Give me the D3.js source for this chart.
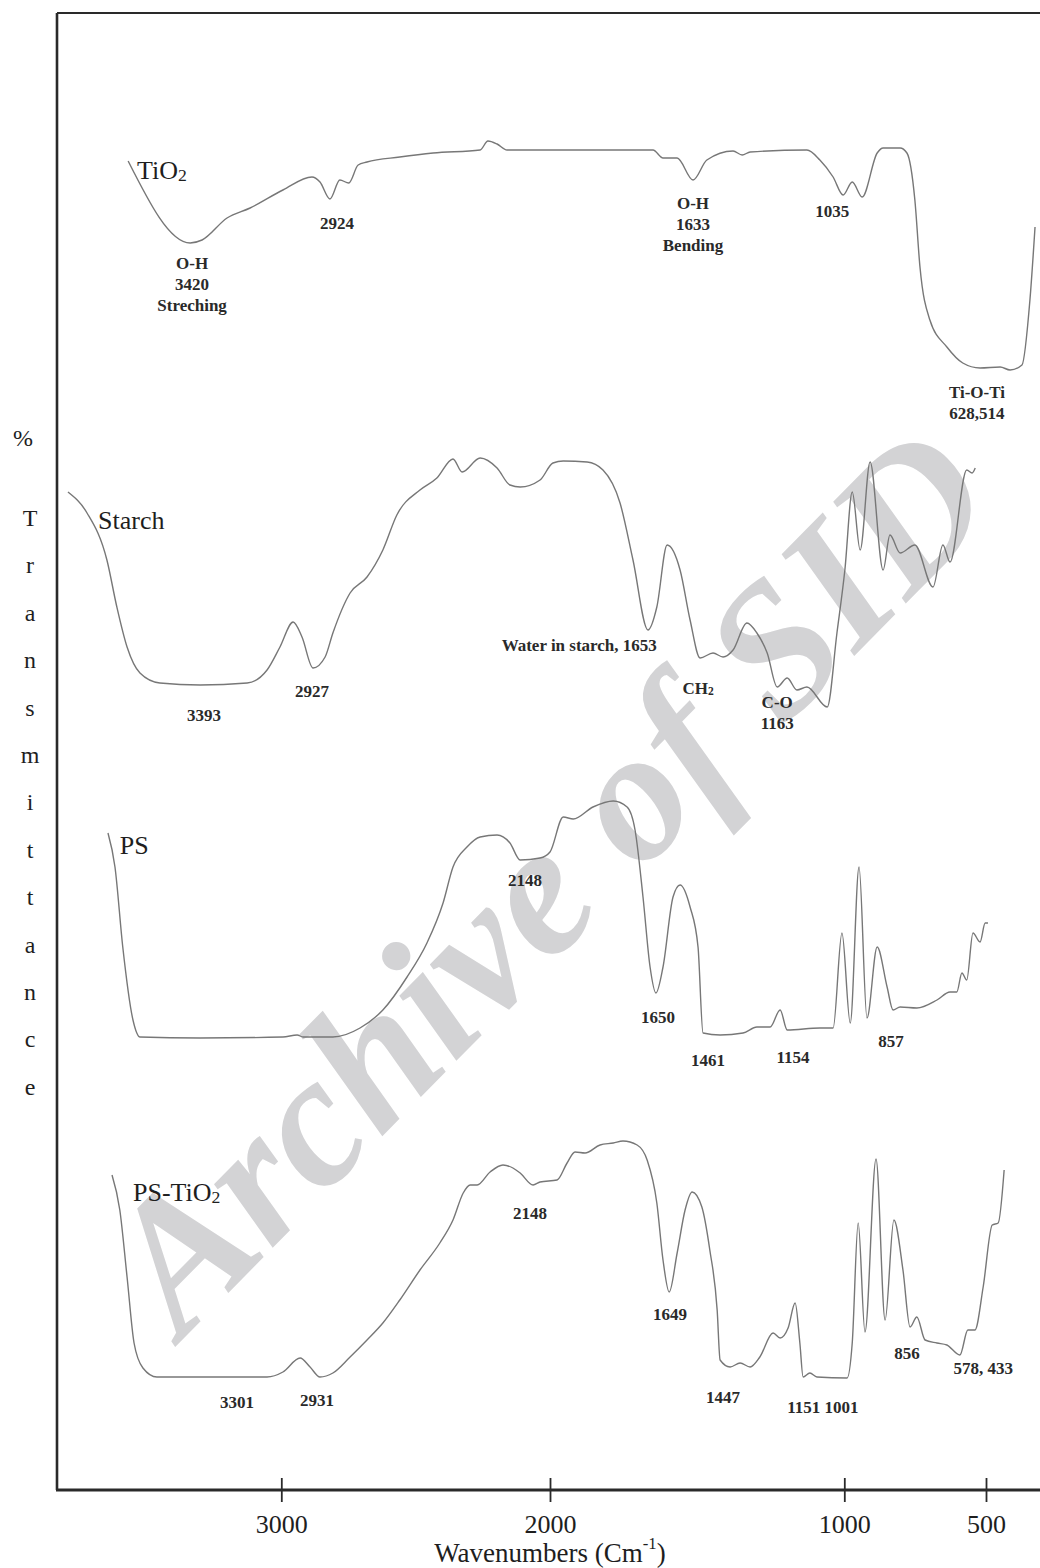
<!DOCTYPE html>
<html>
<head>
<meta charset="utf-8">
<title>FTIR spectra of TiO2, starch, PS and PS-TiO2</title>
<script src="https://cdn.jsdelivr.net/npm/d3@7"></script>
<style>
  html, body { margin: 0; padding: 0; background: #fff; }
  svg { display: block; }
</style>
</head>
<body>
<svg id="chart" width="1040" height="1568"></svg>
<script>
// ---- Spectra: [wavenumber (cm-1), %T] -------------------------------------
const tio2 = [
  [3570,65.8],[3339,49.4],[3295,50.0],[3202,54.4],[3116,56.4],[2994,60.0],[2886,62.6],
  [2856,61.6],[2819,58.2],[2782,62.0],[2749,61.4],[2714,65.0],[2681,65.6],[2559,66.6],
  [2435,67.4],[2260,68.0],[2231,69.8],[2197,69.2],[2160,68.0],[2111,68.0],[1650,68.0],
  [1616,66.4],[1568,66.4],[1514,62.0],[1467,66.0],[1378,67.8],[1347,67.0],[1320,67.6],
  [1127,68.0],[1083,66.0],[1038,62.6],[1004,59.0],[972,61.6],[937,58.6],[884,67.4],
  [863,68.4],[803,68.4],[779,67.4],[751,58.0],[733,44.6],[698,34.0],[638,28.6],
  [582,25.4],[521,24.4],[450,24.6],[415,24.0],[373,25.0],[345,38.0],[327,52.6]
];

const starch = [
  [3794,69.6],[3723,65.4],[3649,56.0],[3612,46.6],[3574,38.6],[3526,33.4],[3452,31.4],
  [3302,31.0],[3127,31.4],[3053,34.0],[3005,38.6],[2956,43.6],[2923,40.6],[2882,34.4],
  [2837,36.6],[2808,41.4],[2744,49.4],[2681,52.6],[2622,58.0],[2570,65.0],[2484,70.0],
  [2421,72.4],[2361,76.2],[2327,73.6],[2260,76.4],[2197,74.4],[2149,71.0],[2111,70.6],
  [2037,72.0],[1990,75.4],[1955,75.8],[1874,75.6],[1820,74.0],[1762,67.4],[1718,56.0],
  [1667,42.0],[1637,46.6],[1602,59.0],[1558,54.0],[1524,44.0],[1490,36.4],[1446,37.4],
  [1412,36.6],[1378,38.0],[1331,43.4],[1297,41.4],[1262,37.4],[1228,30.6],[1194,32.4],
  [1161,30.0],[1127,30.6],[1058,26.6],[1025,41.4],[998,54.0],[972,69.6],[944,58.0],
  [909,75.6],[863,54.0],[839,61.0],[803,57.4],[751,59.0],[687,50.6],[652,59.0],
  [627,55.6],[568,74.0],[549,73.4],[538,74.4]
];

const ps = [
  [3645,71.4],[3619,64.6],[3590,48.6],[3552,34.0],[3526,30.6],[3302,30.4],[2994,30.6],
  [2941,31.0],[2919,30.6],[2808,30.6],[2707,32.4],[2622,36.0],[2532,42.6],[2458,49.4],
  [2398,57.4],[2361,64.6],[2309,68.6],[2260,70.6],[2197,71.0],[2149,69.4],[2111,66.0],
  [2037,66.4],[2000,67.6],[1955,74.6],[1921,74.2],[1854,76.6],[1785,77.8],[1738,76.6],
  [1711,72.0],[1684,58.6],[1660,44.6],[1640,39.4],[1616,44.6],[1582,58.6],[1558,61.0],
  [1524,56.6],[1497,48.6],[1480,31.4],[1422,31.0],[1344,31.4],[1297,32.6],[1252,32.6],
  [1218,36.0],[1194,32.0],[1083,32.4],[1038,32.4],[1008,51.4],[979,33.4],[948,64.6],
  [920,34.4],[884,48.6],[849,40.6],[828,36.0],[803,36.6],[744,36.4],[673,38.0],
  [627,39.6],[603,39.6],[585,43.4],[568,42.0],[546,51.4],[521,49.6],[503,53.4],[493,53.4]
];

const psTio2 = [
  [3630,63.0],[3601,56.0],[3574,42.6],[3548,29.4],[3515,24.4],[3463,22.6],[3302,22.6],
  [3053,22.6],[2994,23.6],[2930,26.4],[2893,24.6],[2856,22.6],[2808,23.4],[2744,26.6],
  [2681,30.0],[2622,33.4],[2559,38.0],[2484,44.0],[2410,49.4],[2361,54.0],[2323,59.4],
  [2297,61.0],[2271,61.0],[2223,63.6],[2175,65.0],[2138,64.4],[2111,63.4],[2063,61.0],
  [2037,61.6],[1976,62.0],[1942,65.4],[1915,67.6],[1881,67.4],[1830,69.0],[1785,69.4],
  [1752,69.8],[1704,69.0],[1670,66.0],[1637,57.4],[1616,46.0],[1595,39.6],[1568,47.4],
  [1541,56.0],[1517,59.6],[1484,56.6],[1457,48.0],[1432,36.0],[1422,26.0],[1388,24.6],
  [1354,25.4],[1320,24.6],[1287,26.6],[1242,31.4],[1218,30.4],[1191,32.4],[1167,37.4],
  [1151,29.4],[1140,22.6],[1117,23.4],[1093,22.6],[990,22.4],[972,29.4],[951,53.4],
  [927,31.6],[888,66.2],[856,34.0],[825,54.0],[793,44.0],[768,32.6],[744,34.6],
  [715,30.0],[673,29.4],[638,29.0],[592,27.0],[564,32.0],[539,32.0],[510,40.6],
  [478,53.0],[457,53.4],[436,64.0]
];

// ---- Axis ticks -----------------------------------------------------------
const tickValues = [3000, 2000, 1000, 500];
const yAxisLetters = ["%", "T", "r", "a", "n", "s", "m", "i", "t", "t", "a", "n", "c", "e"];

// ---- Band labels (name) and peak annotations ------------------------------
const seriesNames = ["TiO_2", "Starch", "PS", "PS-TiO_2"];

const tio2Peaks = [
  { lines: ["O-H", "3420", "Streching"], w: 3332, v: 45.4 },
  { lines: ["2924"], w: 2793, v: 53.4 },
  { lines: ["O-H", "1633", "Bending"], w: 1514, v: 57.4 },
  { lines: ["1035"], w: 1041, v: 55.8 },
  { lines: ["Ti-O-Ti", "628,514"], w: 532, v: 19.6 }
];
const starchPeaks = [
  { lines: ["3393"], w: 3288, v: 25.0 },
  { lines: ["2927"], w: 2886, v: 29.8 },
  { lines: ["Water in starch, 1653"], w: 1637, v: 39.0, anchor: "end" },
  { lines: ["CH_2"], w: 1497, v: 30.4 },
  { lines: ["C-O", "1163"], w: 1228, v: 27.6 }
];
const psPeaks = [
  { lines: ["2148"], w: 2093, v: 62.0 },
  { lines: ["1650"], w: 1633, v: 34.6 },
  { lines: ["1461"], w: 1463, v: 26.0 },
  { lines: ["1154"], w: 1174, v: 26.6 },
  { lines: ["857"], w: 835, v: 29.8 }
];
const psTio2Peaks = [
  { lines: ["3301"], w: 3165, v: 17.6 },
  { lines: ["2931"], w: 2867, v: 18.0 },
  { lines: ["2148"], w: 2074, v: 55.4 },
  { lines: ["1649"], w: 1592, v: 35.2 },
  { lines: ["1447"], w: 1412, v: 18.6 },
  { lines: ["1151 1001"], w: 1073, v: 16.6 },
  { lines: ["856"], w: 779, v: 27.4 },
  { lines: ["578, 433"], w: 510, v: 24.4 }
];

// ---- Layout ---------------------------------------------------------------
const W = 1040, H = 1568;
const frame = { left: 57, top: 13, right: 1040, bottom: 1490 };
const FONT = "'Liberation Serif', 'Times New Roman', serif";
const LINE_COLOR = "#777";
const TEXT_COLOR = "#1e1e1e";

// vertical stacking offsets (in %T units) for each trace
const stack = [
  { data: tio2,   peaks: tio2Peaks,   offset: 200, name: { w: 3537, v: 64.0 } },
  { data: starch, peaks: starchPeaks, offset: 130, name: { w: 3682, v: 64.0 } },
  { data: ps,     peaks: psPeaks,     offset: 60,  name: { w: 3601, v: 69.0 } },
  { data: psTio2, peaks: psTio2Peaks, offset: 0,   name: { w: 3552, v: 59.6 } }
];

// The instrument axis is drawn with a different mm/cm-1 per decade,
// so the wavenumber scale is piecewise linear between the printed ticks.
const x = d3.scaleLinear()
  .domain([3000, 2000, 1000, 500])
  .range([281.3, 550, 844.3, 986]);

const y = d3.scaleLinear().domain([0, 295]).range([frame.bottom, 15]);

const svg = d3.select("#chart").attr("viewBox", `0 0 ${W} ${H}`);
svg.append("rect").attr("width", W).attr("height", H).attr("fill", "#fff");

// Writes "TiO_2"-style strings with the digit after "_" as a subscript
function richText(sel, str) {
  const parts = str.split(/(_\d)/).filter(s => s.length);
  parts.forEach((p, i) => {
    if (p.startsWith("_")) {
      sel.append("tspan").attr("font-size", "0.68em").attr("dy", "0.28em").text(p.slice(1));
    } else {
      const t = sel.append("tspan").text(p);
      if (i > 0 && parts[i - 1].startsWith("_")) t.attr("dy", "-0.19em");
    }
  });
}

// ---- Watermark ------------------------------------------------------------
svg.append("text")
  .attr("transform", "translate(182,1340) rotate(-45.5)")
  .attr("font-family", FONT)
  .attr("font-weight", "bold")
  .attr("font-style", "italic")
  .attr("font-size", 188)
  .attr("fill", "#d3d3d5")
  .text("Archive of SID");

// ---- Frame ----------------------------------------------------------------
const frameG = svg.append("g").attr("stroke", "#2a2a2a").attr("fill", "none");
frameG.append("line")
  .attr("x1", frame.left).attr("x2", frame.right)
  .attr("y1", frame.top).attr("y2", frame.top)
  .attr("stroke-width", 2.2);
frameG.append("line")
  .attr("x1", frame.left).attr("x2", frame.left)
  .attr("y1", frame.top).attr("y2", frame.bottom)
  .attr("stroke-width", 2.6);
frameG.append("line")
  .attr("x1", frame.left - 1).attr("x2", frame.right)
  .attr("y1", frame.bottom).attr("y2", frame.bottom)
  .attr("stroke-width", 3);

// ---- X axis ---------------------------------------------------------------
const xAxis = d3.axisBottom(x).tickValues(tickValues).tickSize(12).tickFormat(d3.format("d"));
const axisG = svg.append("g")
  .attr("transform", `translate(0,${frame.bottom})`)
  .call(xAxis);
axisG.select(".domain").remove();
axisG.selectAll(".tick line")
  .attr("y1", -12).attr("y2", 12)
  .attr("stroke", "#2a2a2a").attr("stroke-width", 1.8);
axisG.selectAll(".tick text")
  .attr("y", 43).attr("dy", null)
  .attr("font-family", FONT).attr("font-size", 26)
  .attr("fill", TEXT_COLOR);

const xTitle = svg.append("text")
  .attr("x", 550).attr("y", 1562)
  .attr("text-anchor", "middle")
  .attr("font-family", FONT).attr("font-size", 27)
  .attr("fill", TEXT_COLOR);
xTitle.append("tspan").text("Wavenumbers (Cm");
xTitle.append("tspan").attr("font-size", "0.62em").attr("dy", "-0.75em").text("-1");
xTitle.append("tspan").attr("dy", "0.47em").text(")");

// ---- Y axis title (stacked letters) ---------------------------------------
svg.append("g")
  .selectAll("text")
  .data(yAxisLetters)
  .join("text")
  .attr("x", (d, i) => i === 0 ? 23 : 30)
  .attr("y", (d, i) => i === 0 ? 438 : 518 + (i - 1) * 47.4)
  .attr("text-anchor", "middle")
  .attr("dominant-baseline", "central")
  .attr("font-family", FONT).attr("font-size", 24)
  .attr("fill", TEXT_COLOR)
  .text(d => d);

// ---- Spectra --------------------------------------------------------------
stack.forEach((s, k) => {
  const line = d3.line()
    .x(d => x(d[0]))
    .y(d => y(d[1] + s.offset))
    .curve(d3.curveMonotoneX);

  svg.append("path")
    .datum(s.data)
    .attr("d", line)
    .attr("fill", "none")
    .attr("stroke", LINE_COLOR)
    .attr("stroke-width", 1.4)
    .attr("stroke-linejoin", "round");

  // sample name
  const nm = svg.append("text")
    .attr("x", x(s.name.w))
    .attr("y", y(s.name.v + s.offset))
    .attr("dominant-baseline", "central")
    .attr("font-family", FONT).attr("font-size", 26)
    .attr("fill", TEXT_COLOR);
  richText(nm, seriesNames[k]);

  // peak annotations
  s.peaks.forEach(p => {
    p.lines.forEach((ln, i) => {
      const t = svg.append("text")
        .attr("x", x(p.w))
        .attr("y", y(p.v + s.offset) + i * 21)
        .attr("text-anchor", p.anchor || "middle")
        .attr("dominant-baseline", "central")
        .attr("font-family", FONT).attr("font-size", 17)
        .attr("font-weight", "bold")
        .attr("fill", "#2a2a2a");
      richText(t, ln);
    });
  });
});
</script>
</body>
</html>
